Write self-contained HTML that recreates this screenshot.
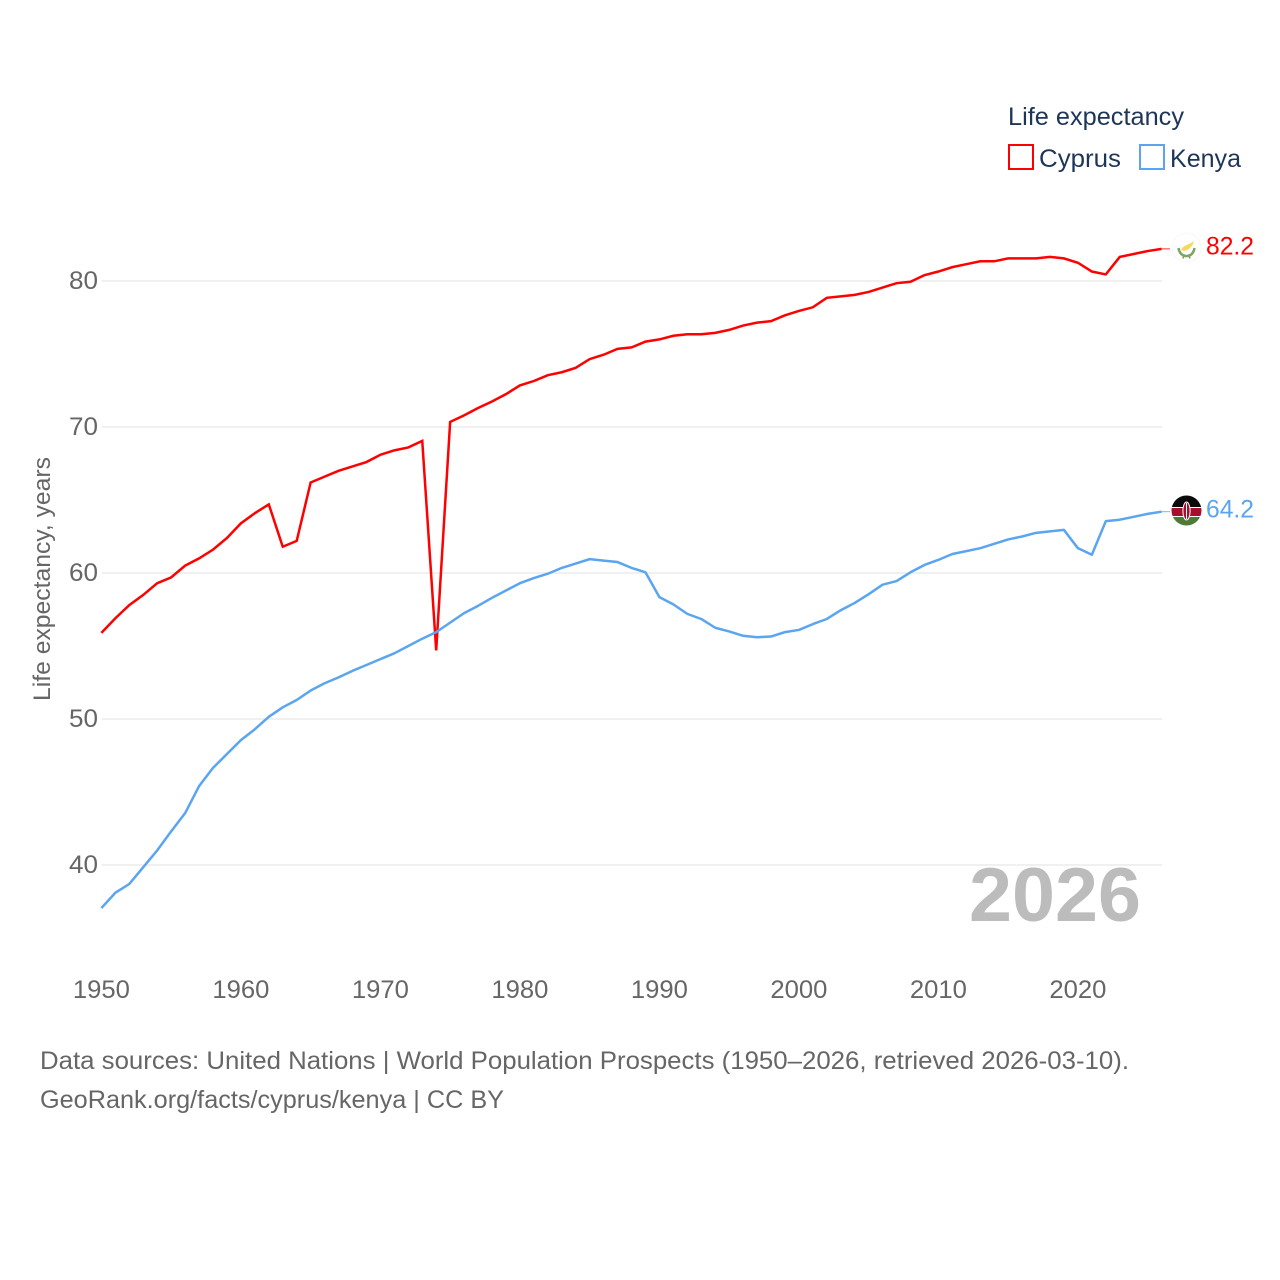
<!DOCTYPE html>
<html lang="en">
<head>
<meta charset="utf-8">
<title>Life expectancy: Cyprus and Kenya</title>
<style>
html,body{margin:0;padding:0;background:#fff;width:1280px;height:1280px;overflow:hidden}
svg{display:block;font-family:"Liberation Sans",sans-serif}
</style>
</head>
<body>
<svg id="chart" xmlns="http://www.w3.org/2000/svg" width="1280" height="1280" viewBox="0 0 1280 1280">
  <g id="grid"></g>
  <g id="yticks"></g>
  <g id="xticks"></g>
  <text transform="translate(50,701) rotate(-90)" font-size="24" fill="#666" textLength="244" lengthAdjust="spacingAndGlyphs">Life expectancy, years</text>
  <text x="969" y="921" font-size="76" font-weight="700" fill="#bcbcbc" textLength="172" lengthAdjust="spacingAndGlyphs">2026</text>
  <g id="series"></g>

  <g id="flag-cyprus">
    <circle cx="1186.5" cy="247.5" r="14.5" fill="#fff" stroke="#f7f7f7" stroke-width="1"/>
    <path d="M1181 250 C1183 245 1189 245 1194 241 C1193 246 1189 250 1184 251 Z" fill="#f6d860"/>
    <path d="M1178.5 248 C1179.5 254 1183 256 1186.5 256 C1190 256 1193.5 254 1194.5 248" fill="none" stroke="#7fa566" stroke-width="2.6"/>
    <path d="M1184 255 L1183 258.5 M1189 255 L1190 258.5" stroke="#7fa566" stroke-width="1.6"/>
  </g>
  <g id="flag-kenya">
    <clipPath id="kenya-clip"><circle cx="1186.5" cy="510.5" r="15"/></clipPath>
    <g clip-path="url(#kenya-clip)">
      <rect x="1171" y="495" width="31" height="12" fill="#0a0a0a"/>
      <rect x="1171" y="507" width="31" height="10" fill="#fff"/>
      <rect x="1171" y="508" width="31" height="8" fill="#a30f2d"/>
      <rect x="1171" y="517" width="31" height="10" fill="#4d7a35"/>
      <ellipse cx="1186.5" cy="511" rx="3.6" ry="9" fill="#a30f2d" stroke="#fff" stroke-width="1"/>
      <rect x="1186" y="503" width="1" height="16" fill="#fff"/>
    </g>
  </g>
  <text id="value-cyprus" x="1206" y="254.5" font-size="25" fill="#ff0000" textLength="48" lengthAdjust="spacingAndGlyphs">82.2</text>
  <text id="value-kenya" x="1206" y="517.5" font-size="25" fill="#5ba5f0" textLength="48" lengthAdjust="spacingAndGlyphs">64.2</text>

  <g>
    <text x="1008" y="125" font-size="25" fill="#1d3557" textLength="176" lengthAdjust="spacingAndGlyphs">Life expectancy</text>
    <g>
      <rect x="1009" y="145" width="24" height="24" fill="#fff" stroke="#ff0000" stroke-width="2"/>
      <text x="1039" y="167" font-size="25" fill="#1d3557" textLength="82" lengthAdjust="spacingAndGlyphs">Cyprus</text>
    </g>
    <g>
      <rect x="1140" y="145" width="24" height="24" fill="#fff" stroke="#5ba5f0" stroke-width="2"/>
      <text x="1170" y="167" font-size="25" fill="#1d3557" textLength="71" lengthAdjust="spacingAndGlyphs">Kenya</text>
    </g>
  </g>

  <g>
    <text x="40" y="1069" font-size="25" fill="#666" textLength="1089" lengthAdjust="spacingAndGlyphs">Data sources: United Nations | World Population Prospects (1950–2026, retrieved 2026-03-10).</text>
    <text x="40" y="1108" font-size="25" fill="#666" textLength="464" lengthAdjust="spacingAndGlyphs">GeoRank.org/facts/cyprus/kenya | CC BY</text>
  </g>
</svg>
<script>
const startYear = 1950;
const xTickLabels = [1950, 1960, 1970, 1980, 1990, 2000, 2010, 2020];
const yTickLabels = [40, 50, 60, 70, 80];
const cyprusValues = [
  55.9, 56.9, 57.8, 58.5, 59.3, 59.7, 60.5, 61.0, 61.6, 62.4,
  63.4, 64.1, 64.7, 61.8, 62.2, 66.2, 66.6, 67.0, 67.3, 67.6,
  68.1, 68.4, 68.6, 69.05, 54.7, 70.35, 70.8, 71.3, 71.75, 72.25,
  72.85, 73.15, 73.55, 73.75, 74.05, 74.65, 74.95, 75.35, 75.45, 75.85,
  76.0, 76.25, 76.35, 76.35, 76.45, 76.65, 76.95, 77.15, 77.25, 77.65,
  77.95, 78.2, 78.85, 78.95, 79.05, 79.25, 79.55, 79.85, 79.95, 80.4,
  80.65, 80.95, 81.15, 81.35, 81.35, 81.55, 81.55, 81.55, 81.65, 81.55,
  81.25, 80.65, 80.45, 81.65, 81.85, 82.05, 82.2
];
const kenyaValues = [
  37.05, 38.1, 38.7, 39.85, 41.0, 42.3, 43.55, 45.4, 46.65, 47.6,
  48.55, 49.3, 50.15, 50.8, 51.3, 51.95, 52.45, 52.85, 53.3, 53.7,
  54.1, 54.5, 55.0, 55.5, 55.95, 56.6, 57.25, 57.75, 58.3, 58.8,
  59.3, 59.65, 59.95, 60.35, 60.65, 60.95, 60.85, 60.75, 60.35, 60.05,
  58.35, 57.85, 57.2, 56.85, 56.25, 56.0, 55.7, 55.6, 55.65, 55.95,
  56.1, 56.5, 56.85, 57.45, 57.95, 58.55, 59.2, 59.45, 60.05, 60.55,
  60.9, 61.3, 61.5, 61.7, 62.0, 62.3, 62.5, 62.75, 62.85, 62.95,
  61.7, 61.25, 63.55, 63.65, 63.85, 64.05, 64.2
];

const NS = 'http://www.w3.org/2000/svg';
const plotLeft = 102;
const plotRight = 1162;
const xScale = function (year) { return 101.4 + (year - 1950) * 13.95; };
const yScale = function (value) { return 281 + (80 - value) * 14.6; };

function make(tag, attrs, parent) {
  const el = document.createElementNS(NS, tag);
  for (const k in attrs) el.setAttribute(k, attrs[k]);
  parent.appendChild(el);
  return el;
}

const gridGroup = document.getElementById('grid');
const yGroup = document.getElementById('yticks');
const xGroup = document.getElementById('xticks');
const seriesGroup = document.getElementById('series');

yTickLabels.forEach(function (v) {
  const line = make('line', {x1: plotLeft, x2: plotRight, y1: yScale(v), y2: yScale(v), stroke: '#ececec', 'stroke-width': 1.4}, gridGroup);
  
  
  const label = make('text', {x: 98, y: yScale(v) + 8, 'text-anchor': 'end', 'font-size': 25, fill: '#666', textLength: 29, lengthAdjust: 'spacingAndGlyphs'}, yGroup);
  
  
  label.textContent = v;
});

xTickLabels.forEach(function (y) {
  const label = make('text', {x: xScale(y), y: 998, 'text-anchor': 'middle', 'font-size': 25, fill: '#666', textLength: 57, lengthAdjust: 'spacingAndGlyphs'}, xGroup);
  
  
  label.textContent = y;
});

function pointsFor(values) {
  return values.map(function (v, i) {
    return xScale(startYear + i).toFixed(2) + ',' + yScale(v).toFixed(2);
  }).join(' ');
}

const lastYear = startYear + cyprusValues.length - 1;

const cyprusConnector = make('line', {x1: xScale(lastYear), x2: 1170, y1: yScale(cyprusValues[cyprusValues.length - 1]), y2: yScale(cyprusValues[cyprusValues.length - 1]), stroke: '#ff0000', 'stroke-width': 1, opacity: 0.8}, seriesGroup);



const kenyaConnector = make('line', {x1: xScale(lastYear), x2: 1170, y1: yScale(kenyaValues[kenyaValues.length - 1]), y2: yScale(kenyaValues[kenyaValues.length - 1]), stroke: '#5ba5f0', 'stroke-width': 1, opacity: 0.8}, seriesGroup);



const cyprusLine = make('polyline', {points: pointsFor(cyprusValues), fill: 'none', stroke: '#ff0000', 'stroke-width': 2.5, 'stroke-linejoin': 'miter', 'stroke-miterlimit': 10}, seriesGroup);



const kenyaLine = make('polyline', {points: pointsFor(kenyaValues), fill: 'none', stroke: '#5ba5f0', 'stroke-width': 2.5, 'stroke-linejoin': 'round'}, seriesGroup);



document.getElementById('value-cyprus').textContent = cyprusValues[cyprusValues.length - 1].toFixed(1);
document.getElementById('value-kenya').textContent = kenyaValues[kenyaValues.length - 1].toFixed(1);
</script>
</body>
</html>
